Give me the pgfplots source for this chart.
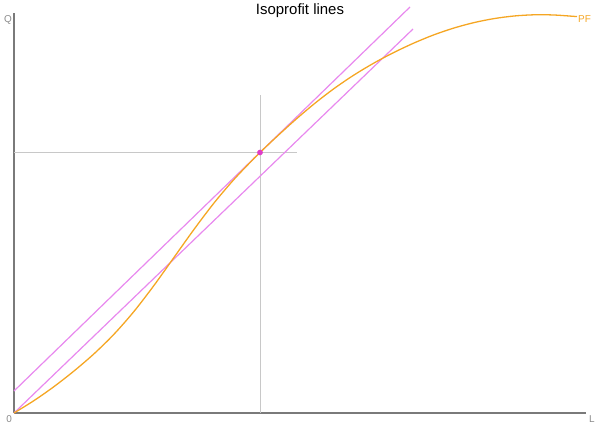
\documentclass[border=0pt]{standalone}
\usepackage{fontspec}
\setmainfont{Liberation Sans}
\usepackage{pgfplots}
\pgfplotsset{compat=1.18}
\definecolor{pfcol}{HTML}{F5A623}
\definecolor{isocol}{HTML}{E889EE}
\definecolor{dotcol}{HTML}{E03CC8}
\definecolor{axcol}{HTML}{7A7A7A}
\definecolor{guide}{HTML}{C8C8C8}
\definecolor{lblcol}{HTML}{8A8A8A}
\begin{document}
\begin{tikzpicture}
\path[use as bounding box] (0,0) rectangle (600bp,429bp);
\node[font=\fontsize{15}{17}\selectfont] at (300bp,418bp) {Isoprofit lines};
\begin{axis}[
  at={(14bp,16bp)}, anchor=south west,
  scale only axis, width=572bp, height=400bp,
  xmin=0, xmax=57.2, ymin=0, ymax=40,
  axis lines=left, axis line style={-, axcol, line width=1.5bp},
  xtick=\empty, ytick=\empty,
  clip=false,
]
% guide lines at the optimum
\addplot[guide, line width=0.8bp] coordinates {(24.6,0) (24.6,31.8)};
\addplot[guide, line width=0.8bp] coordinates {(0,26.05) (28.3,26.05)};
% isoprofit lines
\addplot[isocol, line width=1.2bp] coordinates {(0,2.2) (39.6,40.6)};
\addplot[isocol, line width=1.2bp] coordinates {(0,0) (39.9,38.4)};
% production function
\addplot[pfcol, line width=1.3bp, smooth, tension=0.5] coordinates {
 (0,0) (2,1.24) (4,2.64) (6,4.20) (8,5.92) (10,7.88) (12,10.16) (14,12.76)
 (16,15.56) (18,18.36) (20,21.00) (22,23.36) (24,25.46) (24.6,26.05)
 (26,27.38) (28,29.20) (30,30.90) (32,32.44) (34,33.80) (36,35.00)
 (38,36.06) (40,37.00) (42,37.82) (44,38.50) (46,39.04) (48,39.44)
 (50,39.70) (52,39.82) (54,39.80) (56.3,39.64)
};
% optimum point
\addplot[only marks, mark=*, mark size=2.6bp, dotcol] coordinates {(24.6,26.05)};
\node[pfcol, anchor=west, font=\fontsize{10}{12}\selectfont, inner sep=1bp] at (axis cs:56.3,39.4) {PF};
\node[lblcol, anchor=north east, font=\fontsize{10}{12}\selectfont, inner sep=1bp] at (rel axis cs:0,1) [xshift=-1bp, yshift=-1bp] {Q};
\node[lblcol, anchor=north east, font=\fontsize{10}{12}\selectfont, inner sep=1bp] at (rel axis cs:0,0) [xshift=-1bp, yshift=-1bp] {0};
\node[lblcol, anchor=north west, font=\fontsize{10}{12}\selectfont, inner sep=1bp] at (rel axis cs:1,0) [xshift=2bp, yshift=-1bp] {L};
\end{axis}
\end{tikzpicture}
\end{document}
